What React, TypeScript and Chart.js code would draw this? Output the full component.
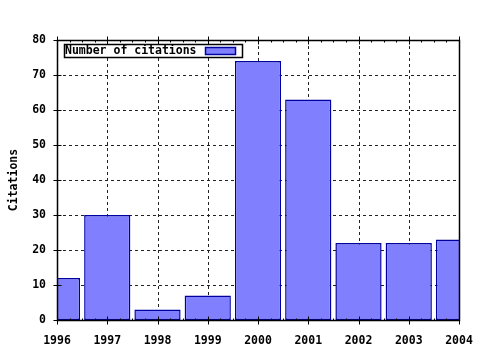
import React, { useEffect, useRef } from "react";
import { Chart, registerables } from "chart.js";

Chart.register(...registerables);

const years = ["1996", "1997", "1998", "1999", "2000", "2001", "2002", "2003", "2004"];
const citations = [12, 30, 3, 7, 74, 63, 22, 22, 23];
const yMin = 0;
const yMax = 80;
const yStep = 10;
const seriesLabel = "Number of citations";
const yTitle = "Citations";

const FAMILY = "'DejaVu Sans Mono', monospace";
const FONT = "bold 11.5px " + FAMILY;
const FILL = "#8080ff";
const EDGE = "#0000a0";

const decor = {
  id: "decor",
  beforeDatasetsDraw(chart: any) {
    const { ctx, chartArea: a, scales } = chart;
    const x = scales.x;
    const y = scales.y;
    ctx.save();
    ctx.strokeStyle = "#222";
    ctx.lineWidth = 1;
    ctx.setLineDash([3, 3]);
    ctx.beginPath();
    for (let i = 1; i < years.length - 1; i++) {
      const px = Math.round(x.getPixelForValue(i)) + 0.5;
      ctx.moveTo(px, a.top);
      ctx.lineTo(px, a.bottom);
    }
    for (let v = yMin + yStep; v < yMax; v += yStep) {
      const py = Math.round(y.getPixelForValue(v)) + 0.5;
      ctx.moveTo(a.left, py);
      ctx.lineTo(a.right, py);
    }
    ctx.stroke();
    ctx.restore();
  },
  afterDatasetsDraw(chart: any) {
    const { ctx, chartArea: a, scales } = chart;
    const x = scales.x;
    const y = scales.y;
    ctx.save();
    ctx.strokeStyle = "#000";
    ctx.lineWidth = 1;
    ctx.setLineDash([]);
    const L = Math.round(a.left) + 0.5;
    const R = Math.round(a.right) + 0.5;
    const T = Math.round(a.top) + 0.5;
    const B = Math.round(a.bottom) + 0.5;
    ctx.lineWidth = 1.5;
    ctx.strokeRect(L, T, R - L, B - T);
    ctx.lineWidth = 1;
    ctx.beginPath();
    for (let i = 0; i < years.length; i++) {
      const px = Math.round(x.getPixelForValue(i)) + 0.5;
      ctx.moveTo(px, B - 4);
      ctx.lineTo(px, B + 4);
      ctx.moveTo(px, T - 4);
      ctx.lineTo(px, T + 4);
      if (i < years.length - 1) {
        const p0 = x.getPixelForValue(i);
        const p1 = x.getPixelForValue(i + 1);
        for (let k = 1; k < 4; k++) {
          const mx = Math.round(p0 + ((p1 - p0) * k) / 4) + 0.5;
          ctx.moveTo(mx, B);
          ctx.lineTo(mx, B - 2);
          ctx.moveTo(mx, T);
          ctx.lineTo(mx, T + 2);
        }
      }
    }
    for (let v = yMin; v <= yMax; v += yStep) {
      const py = Math.round(y.getPixelForValue(v)) + 0.5;
      ctx.moveTo(L - 4, py);
      ctx.lineTo(L + 4, py);
    }
    ctx.stroke();

    // legend
    const bx = a.left + 7;
    const by = a.top + 4;
    ctx.fillStyle = "#fff";
    ctx.fillRect(bx, by, 178, 13);
    ctx.lineWidth = 1.5;
    ctx.strokeStyle = "#000";
    ctx.strokeRect(bx + 0.5, by + 0.5, 178, 13);
    ctx.fillStyle = "#000";
    ctx.font = FONT;
    ctx.textBaseline = "middle";
    ctx.textAlign = "left";
    ctx.fillText(seriesLabel, bx + 1, by + 7);
    ctx.fillStyle = FILL;
    ctx.fillRect(bx + 141, by + 3, 30, 7);
    ctx.lineWidth = 1.5;
    ctx.strokeStyle = EDGE;
    ctx.strokeRect(bx + 141.5, by + 3.5, 30, 7);

    // y title
    ctx.save();
    ctx.translate(14, (a.top + a.bottom) / 2);
    ctx.rotate(-Math.PI / 2);
    ctx.fillStyle = "#000";
    ctx.textAlign = "center";
    ctx.textBaseline = "middle";
    ctx.fillText(yTitle, 0, 0);
    ctx.restore();
    ctx.restore();
  },
};

function BarChart() {
  const ref = useRef<HTMLCanvasElement | null>(null);
  useEffect(() => {
    document.body.style.margin = "0";
    const canvas = ref.current;
    if (!canvas) return;
    const tickFont = { family: FAMILY, size: 11.5, weight: "bold" as const };
    const chart = new Chart(canvas, {
      type: "bar",
      data: {
        labels: years,
        datasets: [
          {
            label: seriesLabel,
            data: citations,
            backgroundColor: FILL,
            borderColor: EDGE,
            borderWidth: 1.5,
            borderSkipped: false,
            barPercentage: 0.92,
            categoryPercentage: 1,
            clip: 0,
          } as any,
        ],
      },
      options: {
        animation: false,
        responsive: false,
        maintainAspectRatio: false,
        devicePixelRatio: 1,
        layout: { padding: { left: 0, top: 40, right: 21, bottom: 0 } },
        plugins: {
          legend: { display: false },
          tooltip: { enabled: false },
        },
        scales: {
          x: {
            type: "category",
            offset: false,
            grid: { display: false },
            border: { display: false },
            ticks: {
              color: "#000",
              font: tickFont,
              padding: 6,
              maxRotation: 0,
              autoSkip: false,
            },
            afterFit: (s: any) => {
              s.height = 30;
            },
          },
          y: {
            min: yMin,
            max: yMax,
            grid: { display: false },
            border: { display: false },
            ticks: {
              stepSize: yStep,
              color: "#000",
              font: tickFont,
              padding: 3,
            },
            afterFit: (s: any) => {
              s.width = 57;
            },
          },
        },
      },
      plugins: [decor],
    });
    return () => chart.destroy();
  }, []);
  return (
    <div style={{ position: "absolute", left: 0, top: 0, width: 480, height: 350, background: "#fff" }}>
      <canvas ref={ref} width={480} height={350} style={{ width: 480, height: 350 }} />
    </div>
  );
}

export default function App() {
  return <BarChart />;
}
